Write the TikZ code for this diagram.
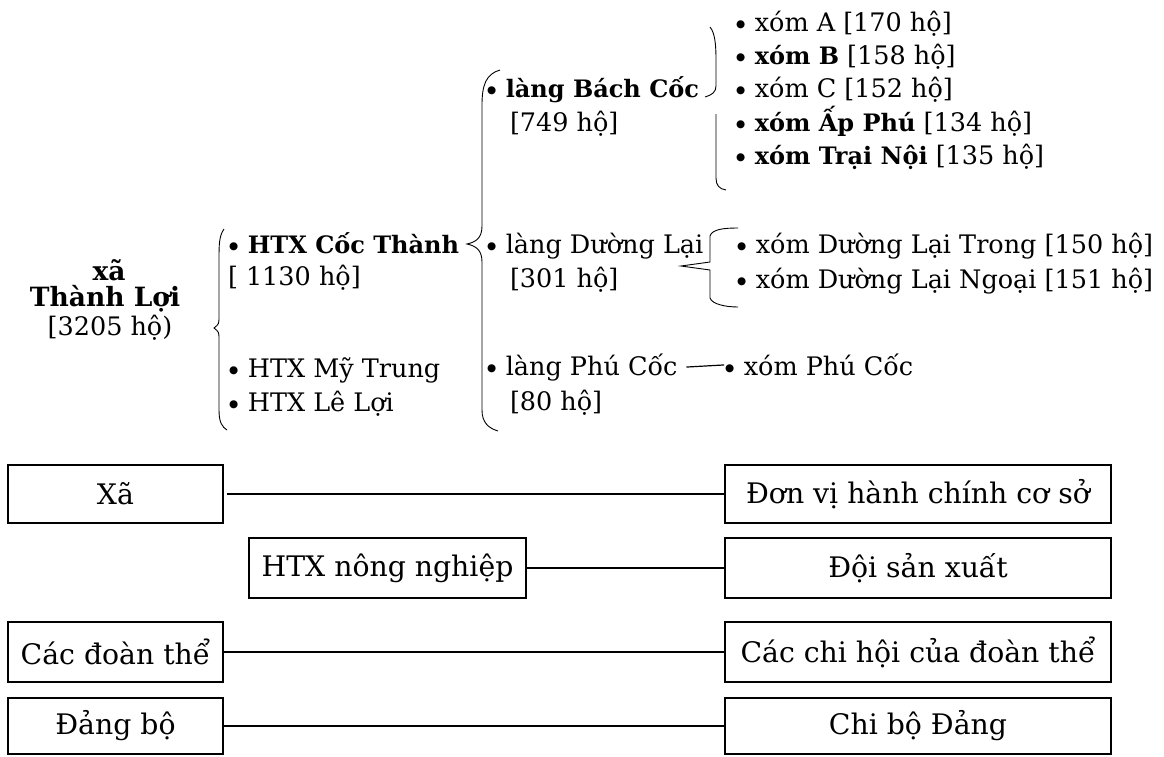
\documentclass[tikz,border=0pt]{standalone}
\usepackage{fontspec}
\setmainfont{DejaVu Serif}
\newfontfamily\symfnt{DejaVu Sans}
\newcommand\topfnt{\fontsize{25.5}{30}\selectfont}
\newcommand\botfnt{\fontsize{28.3}{32}\selectfont}
\newcommand\bul{{\symfnt\fontsize{10.5}{11}\selectfont\raisebox{3.6pt}{●}}\hspace{1.5pt}}
\newcommand\bfx[1]{{\fontsize{24}{30}\selectfont\bfseries #1}}
\newcommand\bfl[1]{{\fontsize{26.5}{30}\selectfont\bfseries #1}}
\begin{document}
\begin{tikzpicture}[x=1pt,y=-1pt,
  every node/.style={inner sep=0pt, outer sep=0pt},
  txt/.style={anchor=base west, font=\topfnt},
  ctr/.style={anchor=base, font=\topfnt},
  box/.style={draw, line width=1.1pt, inner sep=0pt, font=\botfnt},
  conn/.style={line width=1.4pt},
  brace/.style={line width=0.9pt}]
\useasboundingbox (0,0) rectangle (1164,756);

% left block
\node[ctr] (xa1) at (109,280) {\bfl{xã}};
\node[ctr] (xa2) at (105,306) {\bfl{Thành Lợi}};
\node[ctr] (xa3) at (110,335) {[3205 hộ)};

% HTX level
\node[txt] (htx1) at (229,253.5) {\bul\ \bfx{HTX Cốc Thành}};
\node[txt] (htx1b) at (228,285) {[ 1130 hộ]};
\node[txt] (htx2) at (229,377.5) {\bul\ HTX Mỹ Trung};
\node[txt] (htx3) at (229,411.5) {\bul\ HTX Lê Lợi};

% village level
\node[txt] (lang1) at (487,97.5) {\bul\ \bfx{làng Bách Cốc}};
\node[txt] (lang1b) at (510,131.5) {[749 hộ]};
\node[txt] (lang2) at (487,253.5) {\bul\ làng Dường Lại};
\node[txt] (lang2b) at (510,287.5) {[301 hộ]};
\node[txt] (lang3) at (487,375.5) {\bul\ làng Phú Cốc};
\node[txt] (lang3b) at (510,410.5) {[80 hộ]};

% hamlets
\node[txt] (xomA) at (736,31.5) {\bul\ xóm A [170 hộ]};
\node[txt] (xomB) at (736,64.5) {\bul\ \bfx{xóm B} [158 hộ]};
\node[txt] (xomC) at (736,97.5) {\bul\ xóm C [152 hộ]};
\node[txt] (xomD) at (736,131.5) {\bul\ \bfx{xóm Ấp Phú} [134 hộ]};
\node[txt] (xomE) at (736,164.5) {\bul\ \bfx{xóm Trại Nội} [135 hộ]};
\node[txt] (dl1) at (737,253.5) {\bul\ xóm Dường Lại Trong [150 hộ]};
\node[txt] (dl2) at (737,288.5) {\bul\ xóm Dường Lại Ngoại [151 hộ]};
\node[txt] (pc) at (725,375.5) {\bul\ xóm Phú Cốc};

\draw[line width=1.2pt, shorten <=9pt, shorten >=1pt] (lang3.east) -- (pc.west);

% braces
\draw[brace] (224,229) .. controls (219,236) and (219,245) .. (219,260) -- (219,316)
  .. controls (219,324) .. (214,328) .. controls (219,332) .. (219,340) -- (219,410)
  .. controls (219,422) and (222,427) .. (227,430);
\draw[brace] (500,70) .. controls (486,74) and (482,85) .. (482,105) -- (482,226)
  .. controls (482,238) and (476,242) .. (467,244) .. controls (476,246) and (482,250) .. (482,262)
  -- (482,410) .. controls (482,422) and (488,428) .. (498,431);
\draw[brace] (710,27) .. controls (715,33) and (716,45) .. (716,60) -- (716,86)
  .. controls (716,92) and (712,95) .. (705,97);
\draw[brace] (716,114) -- (716,178) .. controls (716,185) and (719,189) .. (726,190);
\draw[brace] (738,228) .. controls (725,228) and (712,229) .. (710,236) -- (710,262)
  -- (681,266) -- (710,270) -- (710,298) .. controls (712,304) and (725,307) .. (738,307);

% bottom boxes
\node[box, minimum width=215pt, minimum height=58pt] (bXa) at (115.5,494) {Xã};
\node[box, minimum width=277pt, minimum height=60pt] (bHTX) at (387.5,568) {HTX nông nghiệp};
\node[box, minimum width=215pt, minimum height=60pt] (bCac) at (115.5,652) {Các đoàn thể};
\node[box, minimum width=215pt, minimum height=56pt] (bDang) at (115.5,726) {Đảng bộ};
\node[box, minimum width=386pt, minimum height=58pt] (rDv) at (918,494) {Đơn vị hành chính cơ sở};
\node[box, minimum width=386pt, minimum height=60pt] (rDoi) at (918,568) {Đội sản xuất};
\node[box, minimum width=386pt, minimum height=60pt] (rChi) at (918,652) {Các chi hội của đoàn thể};
\node[box, minimum width=386pt, minimum height=56pt] (rChiBo) at (918,726) {Chi bộ Đảng};

\draw[conn, shorten <=4pt] (bXa) -- (rDv);
\draw[conn] (bHTX) -- (rDoi);
\draw[conn] (bCac) -- (rChi);
\draw[conn] (bDang) -- (rChiBo);
\end{tikzpicture}
\end{document}
